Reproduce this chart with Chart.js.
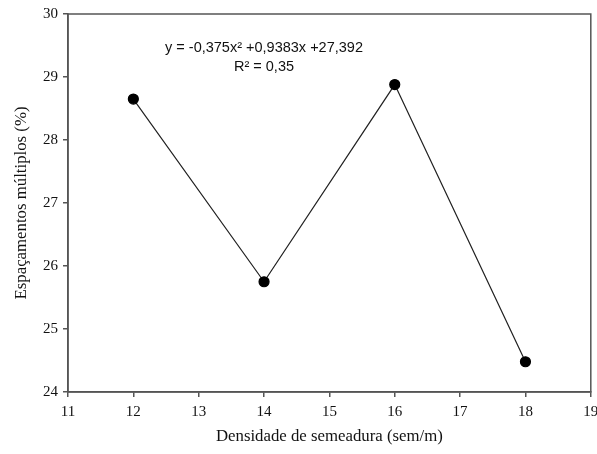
<!DOCTYPE html>
<html>
<head>
<meta charset="utf-8">
<script src="https://cdn.jsdelivr.net/npm/chart.js@4/dist/chart.umd.min.js"></script>
<style>
  html, body { margin: 0; padding: 0; background: #fff; }
  #wrap { width: 597px; height: 454px; }
</style>
</head>
<body>
<div id="wrap"><canvas id="grafico"></canvas></div>
<script>
// densidade (sem/m) e espaçamentos múltiplos (%)
var densidade = [12, 14, 16, 18];
var espacamentos = [28.65, 25.75, 28.88, 24.48];
var xTicks = [11, 12, 13, 14, 15, 16, 17, 18, 19];
var yTicks = [24, 25, 26, 27, 28, 29, 30];
var equacao = ['y = -0,375x\u00b2 +0,9383x +27,392', 'R\u00b2 = 0,35'];

var corEixo = '#555555';
var fonteSerif = "'Liberation Serif', 'Times New Roman', serif";

var caixa = {
  id: 'caixa',
  afterDraw: function(chart) {
    var a = chart.chartArea, c = chart.ctx;
    c.save();
    c.strokeStyle = corEixo;
    c.lineWidth = 1.5;
    c.strokeRect(a.left, a.top, a.right - a.left, a.bottom - a.top);
    // equação da regressão
    c.fillStyle = '#111';
    c.font = "14.5px 'Liberation Sans', Arial, sans-serif";
    c.textAlign = 'center';
    c.textBaseline = 'middle';
    c.fillText(equacao[0], a.left + 196, 48);
    c.fillText(equacao[1], a.left + 196, 67);
    c.restore();
  }
};

var ctx = document.getElementById('grafico').getContext('2d');
var myChart = new Chart(ctx, {
  type: 'scatter',
  data: {
    datasets: [{
      label: 'Espaçamentos múltiplos',
      data: densidade.map(function(d, i) { return {x: d, y: espacamentos[i]}; }),
      showLine: true,
      borderColor: '#222',
      borderWidth: 1.2,
      pointRadius: 5,
      pointBackgroundColor: '#000',
      pointBorderColor: '#000',
      pointHoverRadius: 5
    }]
  },
  options: {
    responsive: true,
    maintainAspectRatio: false,
    animation: false,
    layout: { padding: { top: 14, right: 3, left: 0, bottom: 0 } },
    plugins: { legend: { display: false }, tooltip: { enabled: false } },
    scales: {
      x: {
        type: 'linear',
        min: 11, max: 19,
        afterBuildTicks: function(s) { s.ticks = xTicks.map(function(v) { return {value: v}; }); },
        afterFit: function(s) { s.paddingLeft = 0; s.paddingRight = 0; s.height = 62; },
        grid: { drawOnChartArea: false, drawTicks: true, tickLength: 5, color: corEixo, lineWidth: 1.5 },
        border: { color: corEixo, width: 1.5 },
        ticks: { color: '#111', font: { family: fonteSerif, size: 15 }, padding: 6, maxRotation: 0 },
        title: { display: true, text: 'Densidade de semeadura (sem/m)', color: '#111',
                 font: { family: fonteSerif, size: 16.8 }, padding: { top: 0, bottom: 7 } }
      },
      y: {
        min: 24, max: 30,
        afterBuildTicks: function(s) { s.ticks = yTicks.map(function(v) { return {value: v}; }); },
        afterFit: function(s) { s.paddingTop = 0; s.paddingBottom = 0; s.width = 68; },
        grid: { drawOnChartArea: false, drawTicks: true, tickLength: 5, color: corEixo, lineWidth: 1.5 },
        border: { color: corEixo, width: 1.5 },
        ticks: { color: '#111', font: { family: fonteSerif, size: 15 }, padding: 5 },
        title: { display: true, text: 'Espaçamentos múltiplos (%)', color: '#111',
                 font: { family: fonteSerif, size: 16.8 }, padding: { top: 12, bottom: 0 } }
      }
    }
  },
  plugins: [caixa]
});
</script>
</body>
</html>
